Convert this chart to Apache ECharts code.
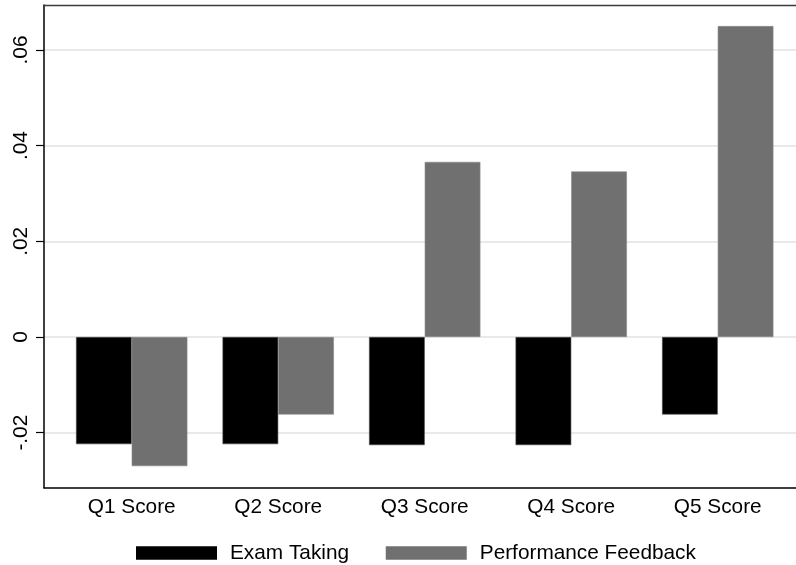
<!DOCTYPE html>
<html>
<head>
<meta charset="utf-8">
<script src="https://cdn.jsdelivr.net/npm/echarts@6/dist/echarts.min.js"></script>
<style>
html,body{margin:0;padding:0;background:#fff;}
#chart{width:796px;height:565px;}
</style>
</head>
<body>
<div id="chart"></div>
<script>
var categories = ['Q1 Score', 'Q2 Score', 'Q3 Score', 'Q4 Score', 'Q5 Score'];
var examTaking = [-0.0224, -0.0224, -0.0226, -0.0226, -0.0162];
var performanceFeedback = [-0.0270, -0.0162, 0.0366, 0.0346, 0.0650];
var yTicks = [-0.02, 0, 0.02, 0.04, 0.06];
var seriesNames = ['Exam Taking', 'Performance Feedback'];

var yMin = -0.0315, yMax = 0.0694;
var FONT = '"Liberation Sans", Arial, Helvetica, sans-serif';

function fmt(v) {
  var r = Math.round(v * 100) / 100;
  if (r === 0) return '0';
  var s = r.toFixed(2);
  return s.replace(/^(-?)0\./, '$1.');
}

var chart = echarts.init(document.getElementById('chart'), null, {renderer: 'canvas'});
chart.setOption({
  animation: false,
  backgroundColor: '#ffffff',
  textStyle: {fontFamily: FONT},
  grid: [
    {left: 58.45, right: 5, top: 5, bottom: 77.3, containLabel: false},
    {left: 44, right: 0, top: 5, bottom: 77.3, containLabel: false, show: false}
  ],
  xAxis: [
    {type: 'category', gridIndex: 0, data: categories,
     axisLine: {show: false}, axisTick: {show: false},
     axisLabel: {color: '#000', fontSize: 20.8, fontFamily: FONT, margin: 9},
     splitLine: {show: false}},
    {type: 'value', gridIndex: 1, min: 0, max: 1, position: 'bottom',
     axisLine: {show: true, onZero: false, lineStyle: {color: '#000', width: 1.5}},
     axisTick: {show: false}, axisLabel: {show: false}, splitLine: {show: false}},
    {type: 'value', gridIndex: 1, min: 0, max: 1, position: 'top',
     axisLine: {show: true, onZero: false, lineStyle: {color: '#3a3a3a', width: 1.3}},
     axisTick: {show: false}, axisLabel: {show: false}, splitLine: {show: false}}
  ],
  yAxis: [
    {type: 'value', gridIndex: 0, min: yMin, max: yMax,
     axisLine: {show: false}, axisTick: {show: false}, axisLabel: {show: false}, splitLine: {show: false}},
    {type: 'value', gridIndex: 1, min: yMin, max: yMax, position: 'left',
     axisLine: {show: true, onZero: false, lineStyle: {color: '#000', width: 1.5}},
     axisTick: {show: true, length: 8, customValues: yTicks, lineStyle: {color: '#000', width: 1.2}},
     axisLabel: {show: true, customValues: yTicks, rotate: 90, margin: 12, color: '#000',
                 fontSize: 20.8, fontFamily: FONT, formatter: fmt},
     splitLine: {show: true, lineStyle: {color: '#e2e2e2', width: 1.5}}}
  ],
  legend: {
    left: 136, top: 542.5, itemWidth: 81, itemHeight: 13.3, itemGap: 36.7,
    icon: 'rect', padding: 0,
    itemStyle: {borderWidth: 0},
    textStyle: {color: '#000', fontSize: 20.8, fontFamily: FONT, padding: [0, 0, 0, 8]},
    data: seriesNames
  },
  series: [
    {name: seriesNames[0], type: 'bar', xAxisIndex: 0, yAxisIndex: 0, data: examTaking,
     barGap: '0%', barCategoryGap: '24%',
     itemStyle: {color: '#000000', borderColor: '#4a4a4a', borderWidth: 0.6}},
    {name: seriesNames[1], type: 'bar', xAxisIndex: 0, yAxisIndex: 0, data: performanceFeedback,
     barGap: '0%', barCategoryGap: '24%',
     itemStyle: {color: '#707070', borderColor: '#8a8a8a', borderWidth: 0.6}}
  ]
});
</script>
</body>
</html>
